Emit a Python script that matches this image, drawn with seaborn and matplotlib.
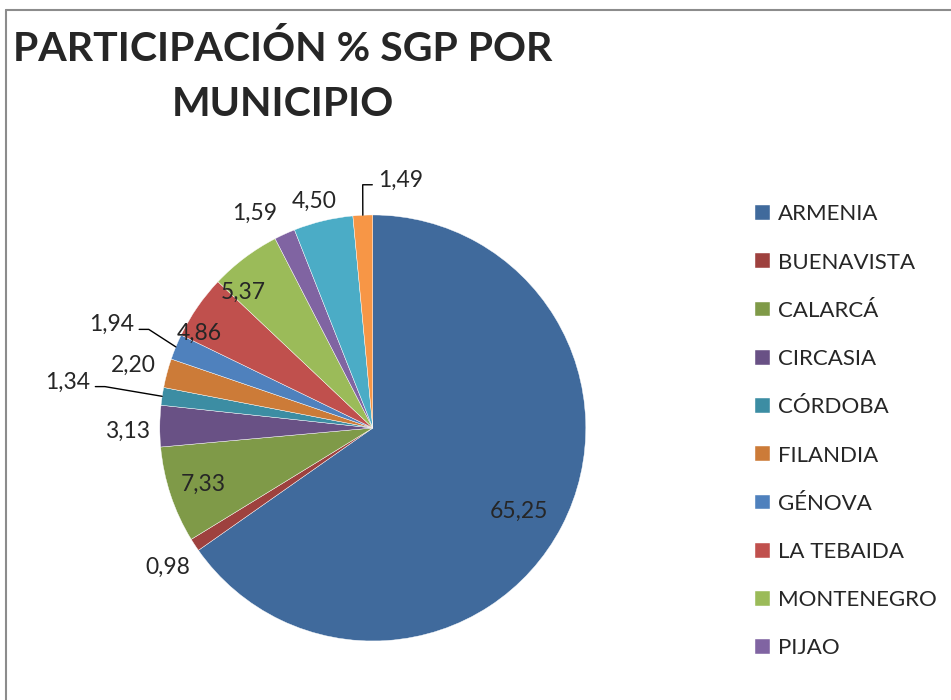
import numpy as np
import matplotlib
matplotlib.use('Agg')
import matplotlib.pyplot as plt
import seaborn as sns

municipios = ['ARMENIA', 'BUENAVISTA', 'CALARCÁ', 'CIRCASIA', 'CÓRDOBA', 'FILANDIA',
              'GÉNOVA', 'LA TEBAIDA', 'MONTENEGRO', 'PIJAO', 'QUIMBAYA', 'SALENTO']
participacion = [65.25, 0.98, 7.33, 3.13, 1.34, 2.20, 1.94, 4.86, 5.37, 1.59, 4.50, 1.49]
colores = ['#406A9C', '#9E413E', '#7F9A48', '#695185', '#3C8DA3', '#CC7B38',
           '#4F81BD', '#C0504D', '#9BBB59', '#8064A2', '#4BACC6', '#F79646']

# label placement: radius, angle shift (deg), leader line side (0 = none)
lab_r = [0.79, 1.165, 0.84, 1.15, 1.345, 1.16, 1.222, 0.93, 0.88, 1.15, 1.10, 1.164]
lab_shift = [-2.3, 0.9, 0.0, 1.4, -0.7, 0.3, -1.0, 6.0, 6.7, 4.3, 1.1, -3.8]
leader = [0, 0, 0, 0, -1, 0, -1, 0, 0, 0, 0, 1]

sns.set_theme(style='white')
plt.rcParams['font.family'] = ['Lato', 'DejaVu Sans']

fig = plt.figure(figsize=(9.51, 7.0), dpi=100)
ax = fig.add_axes([0.168, 0.0843, 0.448, 0.6086])

wedges, _ = ax.pie(participacion, colors=colores, startangle=90, counterclock=False,
                   radius=1, wedgeprops=dict(edgecolor='white', linewidth=0.3))
ax.set_xlim(-1, 1)
ax.set_ylim(-1, 1)
ax.set_aspect('equal')
ax.axis('off')

for w, v, r, sh, ld in zip(wedges, participacion, lab_r, lab_shift, leader):
    mid = np.deg2rad((w.theta1 + w.theta2) / 2)
    ang = mid + np.deg2rad(sh)
    xt, yt = r * np.cos(ang), r * np.sin(ang)
    txt = f'{v:.2f}'.replace('.', ',')
    if ld == 0:
        ax.text(xt, yt, txt, ha='center', va='center', fontsize=16.5, clip_on=False)
    else:
        ha = 'right' if ld < 0 else 'left'
        ax.text(xt, yt, txt, ha=ha, va='center', fontsize=16.5, clip_on=False)
        ly = yt - 0.022
        end_x = xt - ld * 0.025
        elb_x = end_x - ld * 0.045
        ax.plot([end_x, elb_x, np.cos(mid)], [ly, ly, np.sin(mid)],
                color='black', lw=1, clip_on=False)

fig.text(0.297, 0.957, 'PARTICIPACIÓN % SGP POR\nMUNICIPIO', ha='center', va='top',
         fontsize=29.5, fontweight='bold', linespacing=1.6)

fig.legend(wedges[:10], municipios[:10], loc='upper left', bbox_to_anchor=(0.794, 0.708),
           frameon=False, fontsize=16, handlelength=0.65, handleheight=0.65,
           handletextpad=0.4, labelspacing=1.27, borderpad=0, borderaxespad=0)

# chart area border (cut at right and bottom)
fig.add_artist(plt.Line2D([5.5 / 951, 5.5 / 951], [0, 1 - 9.5 / 700], color='#8c8c8c', lw=1.5))
fig.add_artist(plt.Line2D([5.5 / 951, 1], [1 - 9.5 / 700, 1 - 9.5 / 700], color='#8c8c8c', lw=1.5))

fig.savefig('out.png', dpi=100, facecolor='white')
